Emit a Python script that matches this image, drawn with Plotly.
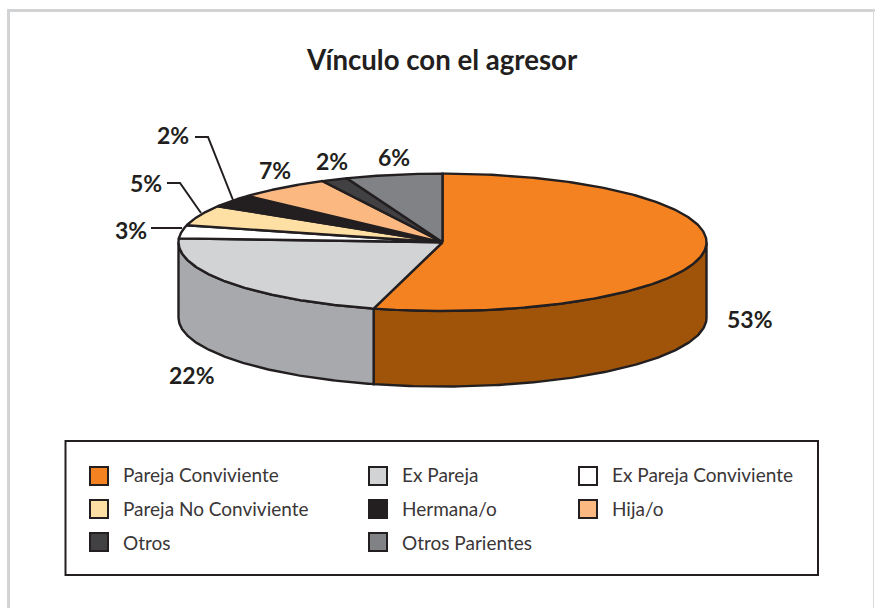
import numpy as np
import plotly.graph_objects as go

# ---- data ----
categories = ["Pareja Conviviente", "Ex Pareja", "Ex Pareja Conviviente", "Pareja No Conviviente",
              "Hermana/o", "Hija/o", "Otros", "Otros Parientes"]
percent_labels = ["53%", "22%", "3%", "5%", "2%", "7%", "2%", "6%"]
# drawn share of each slice, measured on the ellipse (%)
slice_shares = [54.2, 21.7, 3.1, 4.8, 3.0, 5.7, 1.6, 5.9]
top_colors = ["#F58220", "#D1D3D4", "#FFFFFF", "#FEE0A4", "#231F20", "#FBB981", "#414042", "#808285"]
side_colors = ["#A0540A", "#A7A9AC", "#FFFFFF", "#FEE0A4", "#231F20", "#FBB981", "#414042", "#808285"]
title_text = "Vínculo con el agresor"

# ---- layout constants ----
W, H = 875, 608
CX, CY, RX, RY, DEPTH = 442.5, 242.3, 264, 68.7, 75.5
INK = "#231F20"
FONT = "Lato"
LW = 2.4

def ex(t):
    return CX + RX * np.sin(np.radians(t))

def ey(t):
    return CY - RY * np.cos(np.radians(t))

fig = go.Figure()
edges = np.concatenate([[0], np.cumsum(slice_shares)]) * 3.6
edges[-1] = 360

# visible side walls (front half of the cylinder only)
for i, name in enumerate(categories):
    a, b = max(edges[i], 90), min(edges[i + 1], 270)
    if b <= a:
        continue
    t = np.linspace(a, b, 120)
    xs = np.concatenate([ex(t), ex(t[::-1])])
    ys = np.concatenate([ey(t), ey(t[::-1]) + DEPTH])
    fig.add_trace(go.Scatter(x=np.append(xs, xs[0]), y=np.append(ys, ys[0]), mode="lines", fill="toself",
                             fillcolor=side_colors[i], line=dict(color=INK, width=LW),
                             showlegend=False, hoverinfo="skip"))

# top faces
for i, name in enumerate(categories):
    t = np.linspace(edges[i], edges[i + 1], 200)
    xs = np.concatenate([[CX], ex(t), [CX]])
    ys = np.concatenate([[CY], ey(t), [CY]])
    fig.add_trace(go.Scatter(x=xs, y=ys, mode="lines", fill="toself", fillcolor=top_colors[i],
                             line=dict(color=INK, width=LW), name=name, showlegend=False,
                             hoverinfo="name"))

# leader lines
leaders = [[(195, 137), (208, 137), (233, 200)],
           [(167, 183), (180, 183), (201, 213)],
           [(151, 228), (182, 228)]]
for pts in leaders:
    fig.add_trace(go.Scatter(x=[p[0] for p in pts], y=[p[1] for p in pts], mode="lines",
                             line=dict(color=INK, width=2), showlegend=False, hoverinfo="skip"))

# percent labels
label_pos = [(750, 319), (192, 375), (131, 230), (146, 183), (173, 135), (275, 170), (332, 161), (394, 157)]
annotations = []
for txt, (x, y) in zip(percent_labels, label_pos):
    annotations.append(dict(x=x, y=y, xref="x", yref="y", text="<b>%s</b>" % txt, showarrow=False,
                            xanchor="center", yanchor="middle",
                            font=dict(family=FONT, size=23, color=INK)))
annotations.append(dict(x=442, y=59, xref="x", yref="y", text="<b>%s</b>" % title_text, showarrow=False,
                        xanchor="center", yanchor="middle", font=dict(family=FONT, size=27.6, color=INK)))

# legend
col_x = [99, 378, 588]
row_y = [476, 509, 542]
text_y = [474, 508, 542]
for i, name in enumerate(categories):
    sx, sy = col_x[i % 3], row_y[i // 3]
    fig.add_trace(go.Scatter(x=[sx], y=[sy], mode="markers", showlegend=False, hoverinfo="skip",
                             marker=dict(symbol="square", size=18, color=top_colors[i],
                                         line=dict(color=INK, width=2))))
    annotations.append(dict(x=sx + 22, y=text_y[i // 3], xref="x", yref="y", text=name, showarrow=False,
                            xanchor="left", yanchor="middle",
                            font=dict(family=FONT, size=19, color="#3A3637")))

shapes = [
    dict(type="rect", xref="x", yref="y", x0=65.5, y0=441, x1=818, y1=575,
         line=dict(color=INK, width=2), layer="below"),
    dict(type="line", xref="x", yref="y", x0=8.5, y0=9.5, x1=8.5, y1=608, line=dict(color="#D1D3D4", width=3), layer="below"),
    dict(type="line", xref="x", yref="y", x0=7, y0=10.5, x1=875, y1=10.5, line=dict(color="#D1D3D4", width=3), layer="below"),
    dict(type="line", xref="x", yref="y", x0=873.5, y0=10, x1=873.5, y1=608, line=dict(color="#D9DADB", width=1), layer="below"),
]

fig.update_layout(
    width=W, height=H, margin=dict(l=0, r=0, t=0, b=0),
    paper_bgcolor="white", plot_bgcolor="white", showlegend=False,
    xaxis=dict(range=[0, W], visible=False, fixedrange=True),
    yaxis=dict(range=[H, 0], visible=False, fixedrange=True),
    annotations=annotations, shapes=shapes,
)
fig.write_html("out.html", post_script="document.body.style.margin='0';", config={"displayModeBar": False})
